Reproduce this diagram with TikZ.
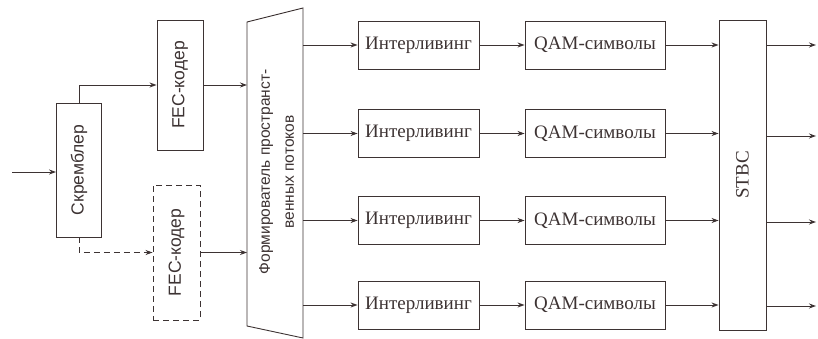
\documentclass[tikz,border=0pt]{standalone}
\usepackage{fontspec}
\setmainfont{Liberation Serif}
\newfontfamily\sansf{Liberation Sans}
\usetikzlibrary{arrows.meta}
\definecolor{ink}{rgb}{0.24,0.2,0.2}
\tikzset{
  box/.style={draw=ink, line width=0.9pt, text=ink, inner sep=0pt, font=\fontsize{19}{21}\selectfont},
  vbox/.style={box, font=\sansf\fontsize{17.5}{20}\selectfont},
  conn/.style={draw=ink, line width=0.9pt, -{Stealth[length=7pt,width=5pt]}},
  plain/.style={draw=ink, line width=0.9pt},
  dsh/.style={dash pattern=on 6pt off 4pt},
}
\begin{document}
\begin{tikzpicture}[x=1pt,y=-1pt]
\useasboundingbox (0,0) rectangle (818,339);
% blocks
\node[vbox, minimum width=45pt, minimum height=134pt] (scr) at (79,170) {\rotatebox{90}{Скремблер}};
\node[vbox, minimum width=46pt, minimum height=130pt] (fec1) at (180,85) {\rotatebox{90}{FEC-кодер}};
\node[vbox, dsh, minimum width=47pt, minimum height=135pt] (fec2) at (176.5,252.5) {\rotatebox{90}{FEC-кодер}};
% former trapezoid
\draw[plain, fill=white] (247,22) -- (303,8) -- (303,338) -- (247,326) -- cycle;
\coordinate (fl) at (247,0);
\coordinate (fr) at (303,0);
\node[text=ink, font=\sansf\fontsize{15.5}{24}\selectfont, inner sep=0pt] (form) at (277,172)
  {\rotatebox{90}{\begin{tabular}{@{}c@{}}Формирователь пространст-\\венных потоков\end{tabular}}};
% interleavers and QAM
\foreach \i/\y in {1/45,2/133.5,3/220.5,4/305}{
  \node[box, minimum width=121pt, minimum height=48pt] (int\i) at (418.5,\y) {Интерливинг};
  \node[box, minimum width=140pt, minimum height=48pt] (qam\i) at (595,\y) {QAM-символы};
}
\node[box, minimum width=47pt, minimum height=310pt] (stbc) at (742.5,175) {\rotatebox{90}{STBC}};
% connectors
\coordinate (in) at (12,172);
\draw[conn] (in) -- (in -| scr.west);
\draw[conn] (scr.north) |- (fec1.west);
\draw[conn, dsh] (scr.south) |- (fec2.west);
\draw[conn] (fec1.east) -- (fec1.east -| fl);
\draw[conn] (fec2.east) -- (fec2.east -| fl);
\foreach \i in {1,2,3,4}{
  \draw[conn] (int\i.west -| fr) -- (int\i.west);
  \draw[conn] (int\i.east) -- (qam\i.west);
  \draw[conn] (qam\i.east) -- (qam\i.east -| stbc.west);
}
\foreach \i/\y in {1/45,2/136,3/222,4/306}{
  \coordinate (out\i) at (816,\y);
  \draw[conn] (stbc.east |- out\i) -- (out\i);
}
\end{tikzpicture}
\end{document}
